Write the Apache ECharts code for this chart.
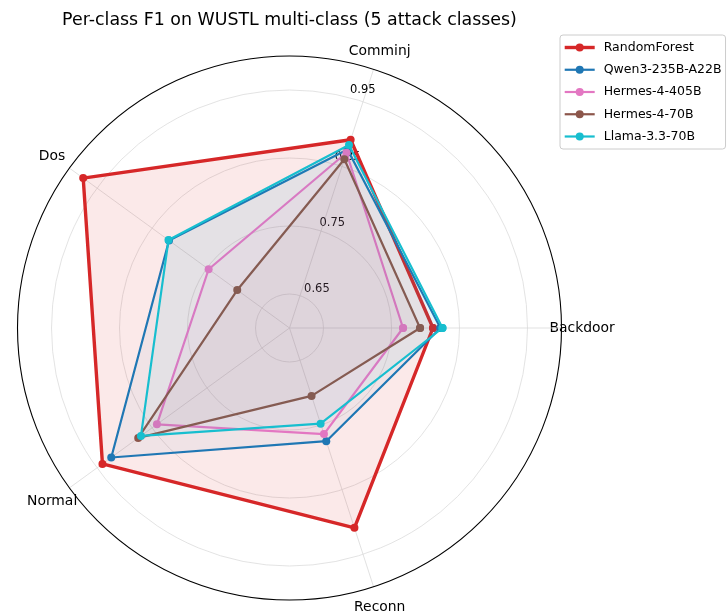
<!DOCTYPE html>
<html>
<head>
<meta charset="utf-8">
<script src="https://cdn.jsdelivr.net/npm/echarts@6/dist/echarts.min.js"></script>
<style>
  html, body { margin: 0; padding: 0; background: #fff; }
  #chart { width: 727px; height: 615px; }
</style>
</head>
<body>
<div id="chart"></div>
<script>
// Attack classes, in counter-clockwise order starting at 3 o'clock
const classes = ['Backdoor', 'Comminj', 'Dos', 'Normal', 'Reconn'];

// Per-class F1 for each model
const randomForest = [0.811, 0.891, 0.975, 0.940, 0.909];
const qwen235b     = [0.822, 0.876, 0.819, 0.924, 0.775];
const hermes405b   = [0.767, 0.871, 0.747, 0.841, 0.764];
const hermes70b    = [0.792, 0.861, 0.695, 0.875, 0.705];
const llama70b     = [0.825, 0.883, 0.820, 0.870, 0.748];

const modelNames = ['RandomForest', 'Qwen3-235B-A22B', 'Hermes-4-405B', 'Hermes-4-70B', 'Llama-3.3-70B'];
const modelValues = [randomForest, qwen235b, hermes405b, hermes70b, llama70b];

// Radial scale and labelled rings
const rMin = 0.6, rMax = 1.0;
const radialTicks = [0.65, 0.75, 0.85, 0.95];

const colors = ['#d62728', '#1f77b4', '#e377c2', '#8c564b', '#17becf'];
const lineWidths = [3.4, 2.2, 2.2, 2.2, 2.2];
const fillOpacity = [0.1, 0.05, 0.05, 0.05, 0.05];

const FONT = 'DejaVu Sans';
const CENTER = [289.5, 328];
const RADIUS = 272;

// Nudges so each class name sits centred just outside the ring
const classLabelRich = {
  c0: { padding: [0, 0, 0, 10] },
  c1: { padding: [0, 0, 32, 26] },
  c2: { padding: [0, 22, 18, 0] },
  c3: { padding: [19, 10, 0, 0] },
  c4: { padding: [35, 0, 0, 26] }
};
Object.keys(classLabelRich).forEach(k => {
  classLabelRich[k].fontFamily = FONT;
  classLabelRich[k].fontSize = 13.9;
  classLabelRich[k].color = '#000';
});

// Close each polygon by repeating the first class at angle = classes.length
function toPolar(values) {
  const pts = values.map((v, i) => [v, i]);
  pts.push([values[0], classes.length]);
  return pts;
}

const series = modelNames.map((name, k) => ({
  name: name,
  type: 'line',
  coordinateSystem: 'polar',
  polarIndex: 0,
  data: toPolar(modelValues[k]),
  symbol: 'circle',
  symbolSize: 8,
  clip: false,
  color: colors[k],
  lineStyle: { width: lineWidths[k], color: colors[k] },
  itemStyle: { color: colors[k] },
  areaStyle: { color: colors[k], opacity: fillOpacity[k] },
  emphasis: { disabled: true },
  z: 2 + k
}));

const chart = echarts.init(document.getElementById('chart'), null, { renderer: 'canvas' });
chart.setOption({
  animation: false,
  backgroundColor: '#ffffff',
  color: colors,
  textStyle: { fontFamily: FONT },
  title: {
    text: 'Per-class F1 on WUSTL multi-class (5 attack classes)',
    left: CENTER[0] - 5,
    textAlign: 'center',
    top: 7,
    textStyle: { fontFamily: FONT, fontSize: 17.4, fontWeight: 'normal', color: '#000' }
  },
  legend: {
    orient: 'vertical',
    left: 560,
    top: 35,
    padding: [6, 4, 6, 3],
    itemWidth: 30,
    itemHeight: 10,
    itemGap: 9.25,
    borderColor: '#cccccc',
    borderWidth: 1,
    borderRadius: 3,
    backgroundColor: '#ffffff',
    lineStyle: { width: 'inherit' },
    textStyle: { fontFamily: FONT, fontSize: 12.5, color: '#000', padding: [0, 0, 0, 4] },
    data: modelNames
  },
  polar: [
    { center: CENTER, radius: RADIUS },
    { center: CENTER, radius: RADIUS }
  ],
  angleAxis: [
    {
      polarIndex: 0,
      type: 'value',
      min: 0,
      max: classes.length,
      interval: 1,
      startAngle: 0,
      clockwise: false,
      axisLine: { show: true, lineStyle: { color: '#000000', width: 1.1 } },
      axisTick: { show: false },
      splitLine: { show: true, lineStyle: { color: '#d9d9d9', width: 0.8 } },
      axisLabel: {
        show: true,
        margin: -22,
        formatter: function (val) {
          const i = Math.round(val);
          if (i < 0 || i >= classes.length) return '';
          return '{c' + i + '|' + classes[i] + '}';
        },
        rich: classLabelRich
      }
    },
    {
      polarIndex: 1,
      type: 'value',
      min: 0,
      max: 1,
      startAngle: 77,
      clockwise: false,
      axisLine: { show: false },
      axisTick: { show: false },
      splitLine: { show: false },
      axisLabel: { show: false }
    }
  ],
  radiusAxis: [
    {
      polarIndex: 0,
      type: 'value',
      min: rMin,
      max: rMax,
      interval: 0.05,
      axisLine: { show: false },
      axisTick: { show: false },
      axisLabel: { show: false },
      splitLine: { show: true, lineStyle: { color: ['rgba(0,0,0,0)', '#dcdcdc'], width: 0.8 } }
    },
    {
      polarIndex: 1,
      type: 'value',
      min: rMin,
      max: rMax,
      interval: 0.05,
      axisLine: { show: false },
      axisTick: { show: false },
      splitLine: { show: false },
      axisLabel: {
        show: true,
        margin: -1,
        align: 'left',
        verticalAlign: 'bottom',
        padding: [0, 0, 0, 6],
        fontFamily: FONT,
        fontSize: 11.5,
        color: '#000',
        formatter: function (val) {
          const hit = radialTicks.some(t => Math.abs(t - val) < 1e-6);
          return hit ? val.toFixed(2) : '';
        }
      }
    }
  ],
  series: series
});
</script>
</body>
</html>
